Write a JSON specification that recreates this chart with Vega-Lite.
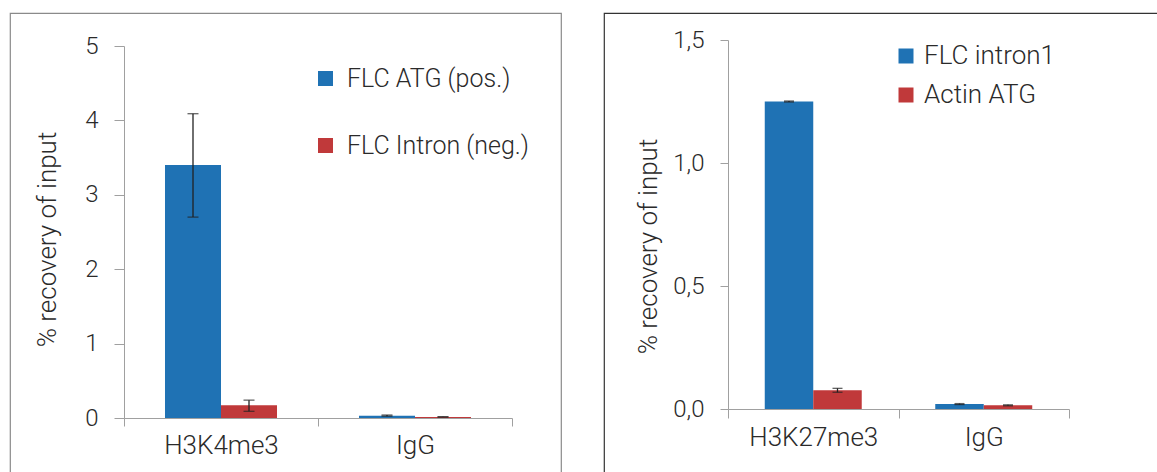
{
  "$schema": "https://vega.github.io/schema/vega-lite/v6.json",
  "padding": {"left": 9, "top": 12, "right": 0, "bottom": 0},
  "spacing": 41,
  "background": "white",
  "config": {
    "font": "Roboto",
    "axis": {"grid": false, "domainColor": "#a0a0a0", "tickColor": "#a0a0a0", "labelFont": "Roboto", "labelFontWeight": 300, "labelColor": "#2a2a2a", "titleFont": "Roboto", "titleFontWeight": 300, "titleColor": "#2a2a2a"},
    "legend": {"labelFont": "Roboto", "labelFontWeight": 300, "labelColor": "#2a2a2a", "labelLimit": 400}
  },
  "resolve": {"scale": {"color": "independent", "x": "independent", "y": "independent", "xOffset": "independent"}, "legend": {"color": "independent"}},
  "hconcat": [
    {
      "width": 551,
      "height": 460,
      "view": {"stroke": "#8a8a8a", "strokeWidth": 1.2},
      "data": {"values": [
        {"target": "H3K4me3", "series": "FLC ATG (pos.)", "value": 3.40, "lo": 2.70, "hi": 4.09},
        {"target": "H3K4me3", "series": "FLC Intron (neg.)", "value": 0.17, "lo": 0.09, "hi": 0.24},
        {"target": "IgG", "series": "FLC ATG (pos.)", "value": 0.03, "lo": 0.025, "hi": 0.04},
        {"target": "IgG", "series": "FLC Intron (neg.)", "value": 0.015, "lo": 0.012, "hi": 0.018}
      ]},
      "layer": [
        {
          "mark": {"type": "bar"},
          "encoding": {
            "x": {"field": "target", "type": "nominal", "sort": ["H3K4me3", "IgG"],
              "scale": {"range": [114, 502], "paddingInner": 0, "paddingOuter": 0},
              "axis": {"title": null, "labelAngle": 0, "offset": -55, "tickBand": "extent", "tickSize": 8, "labelFontSize": 26, "labelPadding": 6}},
            "xOffset": {"field": "series", "type": "nominal", "scale": {"domain": ["FLC ATG (pos.)", "FLC Intron (neg.)"], "paddingInner": 0, "paddingOuter": 0.732}},
            "y": {"field": "value", "type": "quantitative",
              "scale": {"domain": [0, 5], "range": [405, 33], "nice": false},
              "axis": {"title": "% recovery of input", "values": [0, 1, 2, 3, 4, 5], "format": "d", "offset": -114, "tickSize": 10, "labelFontSize": 24, "labelPadding": 16, "titleFontSize": 26, "titleX": -77, "titleY": 226, "titleBaseline": "middle", "titleAngle": 270}},
            "color": {"field": "series", "type": "nominal",
              "scale": {"domain": ["FLC ATG (pos.)", "FLC Intron (neg.)"], "range": ["#1f72b4", "#c0393a"]},
              "legend": {"title": null, "orient": "none", "legendX": 303, "legendY": 53, "symbolType": "square", "symbolSize": 225, "symbolStrokeWidth": 0, "labelFontSize": 25, "labelOffset": 9, "rowPadding": 41, "padding": 0}}
          }
        },
        {
          "mark": {"type": "rule", "color": "#222", "strokeWidth": 1.3},
          "encoding": {
            "x": {"field": "target", "type": "nominal", "sort": ["H3K4me3", "IgG"]},
            "xOffset": {"field": "series", "type": "nominal"},
            "y": {"field": "lo", "type": "quantitative"},
            "y2": {"field": "hi"}
          }
        },
        {
          "mark": {"type": "tick", "orient": "horizontal", "color": "#222", "size": 11, "thickness": 1.3},
          "encoding": {
            "x": {"field": "target", "type": "nominal", "sort": ["H3K4me3", "IgG"]},
            "xOffset": {"field": "series", "type": "nominal"},
            "y": {"field": "lo", "type": "quantitative"}
          }
        },
        {
          "mark": {"type": "tick", "orient": "horizontal", "color": "#222", "size": 11, "thickness": 1.3},
          "encoding": {
            "x": {"field": "target", "type": "nominal", "sort": ["H3K4me3", "IgG"]},
            "xOffset": {"field": "series", "type": "nominal"},
            "y": {"field": "hi", "type": "quantitative"}
          }
        }
      ]
    },
    {
      "width": 556,
      "height": 460,
      "view": {"stroke": "#333", "strokeWidth": 1.2},
      "data": {"values": [
        {"target": "H3K27me3", "series": "FLC intron1", "value": 1.25, "lo": 1.248, "hi": 1.252},
        {"target": "H3K27me3", "series": "Actin ATG", "value": 0.076, "lo": 0.068, "hi": 0.084},
        {"target": "IgG", "series": "FLC intron1", "value": 0.02, "lo": 0.018, "hi": 0.022},
        {"target": "IgG", "series": "Actin ATG", "value": 0.015, "lo": 0.013, "hi": 0.017}
      ]},
      "layer": [
        {
          "mark": {"type": "bar"},
          "encoding": {
            "x": {"field": "target", "type": "nominal", "sort": ["H3K27me3", "IgG"],
              "scale": {"range": [124, 465], "paddingInner": 0, "paddingOuter": 0},
              "axis": {"title": null, "labelAngle": 0, "offset": -64, "tickBand": "extent", "tickSize": 9, "labelFontSize": 26, "labelPadding": 6}},
            "xOffset": {"field": "series", "type": "nominal", "scale": {"domain": ["FLC intron1", "Actin ATG"], "paddingInner": 0, "paddingOuter": 0.758}},
            "y": {"field": "value", "type": "quantitative",
              "scale": {"domain": [0, 1.5], "range": [396, 27], "nice": false},
              "axis": {"title": "% recovery of input", "values": [0, 0.5, 1, 1.5], "labelExpr": "replace(format(datum.value, '.1f'), '.', ',')", "offset": -124, "tickSize": 8, "labelFontSize": 24, "labelPadding": 16, "titleFontSize": 26, "titleX": -80, "titleY": 233, "titleBaseline": "middle", "titleAngle": 270}},
            "color": {"field": "series", "type": "nominal",
              "scale": {"domain": ["FLC intron1", "Actin ATG"], "range": ["#1f72b4", "#c0393a"]},
              "legend": {"title": null, "orient": "none", "legendX": 289, "legendY": 30, "symbolType": "square", "symbolSize": 225, "symbolStrokeWidth": 0, "labelFontSize": 26, "labelOffset": 5, "rowPadding": 13, "padding": 0}}
          }
        },
        {
          "mark": {"type": "rule", "color": "#222", "strokeWidth": 1.3},
          "encoding": {
            "x": {"field": "target", "type": "nominal", "sort": ["H3K27me3", "IgG"]},
            "xOffset": {"field": "series", "type": "nominal"},
            "y": {"field": "lo", "type": "quantitative"},
            "y2": {"field": "hi"}
          }
        },
        {
          "mark": {"type": "tick", "orient": "horizontal", "color": "#222", "size": 10, "thickness": 1.3},
          "encoding": {
            "x": {"field": "target", "type": "nominal", "sort": ["H3K27me3", "IgG"]},
            "xOffset": {"field": "series", "type": "nominal"},
            "y": {"field": "lo", "type": "quantitative"}
          }
        },
        {
          "mark": {"type": "tick", "orient": "horizontal", "color": "#222", "size": 10, "thickness": 1.3},
          "encoding": {
            "x": {"field": "target", "type": "nominal", "sort": ["H3K27me3", "IgG"]},
            "xOffset": {"field": "series", "type": "nominal"},
            "y": {"field": "hi", "type": "quantitative"}
          }
        }
      ]
    }
  ]
}
